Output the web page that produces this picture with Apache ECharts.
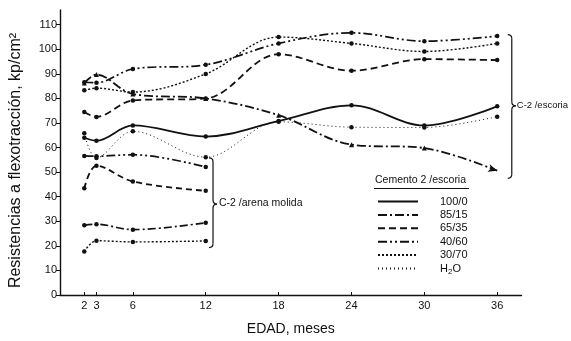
<!DOCTYPE html>
<html>
<head>
<meta charset="utf-8">
<script src="https://cdn.jsdelivr.net/npm/echarts@6/dist/echarts.min.js"></script>
<style>
  html, body { margin: 0; padding: 0; background: #fff; }
  #chart { width: 571px; height: 341px; }
</style>
</head>
<body>
<div id="chart"></div>
<script>
// Ages (months) and tick labels
const months = [2, 3, 6, 12, 18, 24, 30, 36];
const monthsArena = [2, 3, 6, 12];
const xTickValues = [2, 3, 6, 12, 18, 24, 30, 36];
const yTickValues = [0, 10, 20, 30, 40, 50, 60, 70, 80, 90, 100, 110];

// C-2 / escoria series (kp/cm2)
const esc100_0 = [64.0, 62.8, 69.0, 64.5, 70.8, 77.2, 69.0, 76.8];
const esc85_15 = [86.3, 89.7, 81.8, 80.0, 73.2, 61.2, 59.8, 50.6];
const esc65_35 = [74.5, 72.5, 79.2, 80.0, 98.0, 91.3, 96.0, 95.6];
const esc40_60 = [86.6, 86.4, 92.0, 93.7, 102.4, 106.7, 103.3, 105.4];
const esc30_70 = [83.3, 84.2, 82.6, 90.0, 105.0, 102.4, 99.1, 102.4];
const escH2O   = [65.8, 55.8, 66.6, 56.1, 70.5, 68.3, 68.2, 72.6];

// C-2 / arena molida series (kp/cm2)
const arenaA = [56.6, 56.5, 57.1, 52.1];
const arenaB = [43.4, 52.6, 46.2, 42.4];
const arenaC = [28.4, 28.8, 26.6, 29.4];
const arenaD = [17.7, 22.1, 21.6, 22.0];

const legendNames = ['100/0', '85/15', '65/35', '40/60', '30/70', 'H2O'];

const FONT = '"Liberation Sans", Arial, sans-serif';
const INK = '#111';

function line(name, xs, ys, dash, width, symbol, opts) {
  opts = opts || {};
  const data = xs.map((x, i) => [x, ys[i]]);
  if (opts.arrowEnd) {
    const last = data.length - 1;
    data[last] = { value: data[last], symbol: 'arrow', symbolSize: [6, 9], symbolRotate: -107 };
  }
  return {
    name: name,
    type: 'line',
    data: data,
    smooth: 0.35,
    symbol: symbol || 'circle',
    symbolSize: opts.symbolSize || 4.5,
    showSymbol: true,
    lineStyle: { color: INK, width: width, type: dash },
    itemStyle: { color: INK },
    emphasis: { disabled: true },
    animation: false,
    z: 3
  };
}

const series = [
  line('100/0', months, esc100_0, 'solid', 1.8),
  line('85/15', months, esc85_15, [9, 3, 2, 3], 1.8, 'triangle', { arrowEnd: true, symbolSize: 5 }),
  line('65/35', months, esc65_35, [7, 4], 1.8),
  line('40/60', months, esc40_60, [9, 3, 2, 3, 2, 3], 1.7),
  line('30/70', months, esc30_70, [2, 2], 1.4),
  line('H2O', months, escH2O, [1, 3], 1.0),
  line('arena-a', monthsArena, arenaA, [9, 3, 2, 3, 2, 3], 1.7),
  line('arena-b', monthsArena, arenaB, [6, 4], 1.8),
  line('arena-c', monthsArena, arenaC, [8, 3, 2, 3], 1.7),
  line('arena-d', monthsArena, arenaD, [2, 2], 1.4)
];

const chart = echarts.init(document.getElementById('chart'), null, { renderer: 'canvas' });

chart.setOption({
  animation: false,
  backgroundColor: '#fff',
  textStyle: { fontFamily: FONT, color: INK },
  grid: { left: 54.5, right: 49.5, top: 10, bottom: 42, containLabel: false },
  xAxis: {
    type: 'value',
    min: 0,
    max: 38,
    name: 'EDAD, meses',
    nameLocation: 'middle',
    nameGap: 27,
    nameTextStyle: { fontSize: 14, color: INK, fontFamily: FONT },
    axisLine: { lineStyle: { color: INK, width: 1.4 } },
    axisTick: { show: true, inside: true, length: 3, customValues: xTickValues, lineStyle: { color: INK, width: 1 } },
    axisLabel: { customValues: xTickValues, fontSize: 11, color: INK, margin: 5, fontFamily: FONT },
    splitLine: { show: false }
  },
  yAxis: {
    type: 'value',
    min: 0,
    max: 116,
    name: 'Resistencias a flexotracción, kp/cm²',
    nameLocation: 'middle',
    nameRotate: 90,
    nameGap: 36,
    nameTextStyle: { fontSize: 16, color: INK, fontFamily: FONT, padding: [0, 16, 0, 0] },
    axisLine: { show: true, lineStyle: { color: INK, width: 1.4 } },
    axisTick: { show: true, inside: false, length: 4, customValues: yTickValues, lineStyle: { color: INK, width: 1 } },
    axisLabel: { customValues: yTickValues, fontSize: 11, color: INK, margin: 3, fontFamily: FONT },
    splitLine: { show: false }
  },
  legend: {
    data: legendNames,
    orient: 'vertical',
    left: 372,
    top: 191,
    itemWidth: 40,
    itemHeight: 10,
    itemGap: 2.4,
    selectedMode: false,
    itemStyle: { opacity: 0 },
    formatter: function (name) {
      return name === 'H2O' ? '{n|H}{s|2}{n|O}' : '{n|' + name + '}';
    },
    textStyle: {
      fontFamily: FONT,
      color: INK,
      fontSize: 11,
      padding: [0, 0, 0, 17],
      rich: {
        n: { fontSize: 11, fontFamily: FONT, color: INK },
        s: { fontSize: 8, fontFamily: FONT, color: INK, padding: [6, 0, 0, 0] }
      }
    }
  },
  series: series
});

// Group braces and labels, anchored to data coordinates
function px(x, y) { return chart.convertToPixel({ gridIndex: 0 }, [x, y]); }
const stroke = { stroke: INK, lineWidth: 1.2, fill: 'none' };
function brace(x, y1, y2, ym) {
  const c = 4;
  return [
    { type: 'bezierCurve', shape: { x1: x - c, y1: y1, cpx1: x, cpy1: y1, x2: x, y2: y1 + c }, style: stroke, z: 10 },
    { type: 'line', shape: { x1: x, y1: y1 + c, x2: x, y2: ym - c }, style: stroke, z: 10 },
    { type: 'bezierCurve', shape: { x1: x, y1: ym - c, cpx1: x, cpy1: ym, x2: x + c, y2: ym }, style: stroke, z: 10 },
    { type: 'bezierCurve', shape: { x1: x + c, y1: ym, cpx1: x, cpy1: ym, x2: x, y2: ym + c }, style: stroke, z: 10 },
    { type: 'line', shape: { x1: x, y1: ym + c, x2: x, y2: y2 - c }, style: stroke, z: 10 },
    { type: 'bezierCurve', shape: { x1: x, y1: y2 - c, cpx1: x, cpy1: y2, x2: x - c, y2: y2 }, style: stroke, z: 10 }
  ];
}

const rTop = px(37.2, 106), rBot = px(37.2, 47.5), rMid = px(37.2, 77);
const lTop = px(12.6, 55.8), lBot = px(12.6, 19.3), lMid = px(12.6, 37);

const graphics = []
  .concat(brace(rTop[0], rTop[1], rBot[1], rMid[1]))
  .concat(brace(lTop[0], lTop[1], lBot[1], lMid[1]))
  .concat([
    {
      type: 'text',
      x: rMid[0] + 5,
      y: rMid[1] - 5.5,
      style: { text: 'C-2 /escoria', fontSize: 9.5, fontFamily: FONT, fill: INK },
      z: 10
    },
    {
      type: 'text',
      x: lMid[0] + 6,
      y: lMid[1] - 6,
      style: { text: 'C-2 /arena molida', fontSize: 10.5, fontFamily: FONT, fill: INK },
      z: 10
    },
    {
      type: 'text',
      x: 375,
      y: 175,
      style: { text: 'Cemento 2 /escoria', fontSize: 10.5, fontFamily: FONT, fill: INK },
      z: 10
    },
    {
      type: 'line',
      shape: { x1: 374, y1: 188.5, x2: 469, y2: 188.5 },
      style: { stroke: INK, lineWidth: 1 },
      z: 10
    }
  ]);

chart.setOption({ graphic: graphics });
</script>
</body>
</html>
